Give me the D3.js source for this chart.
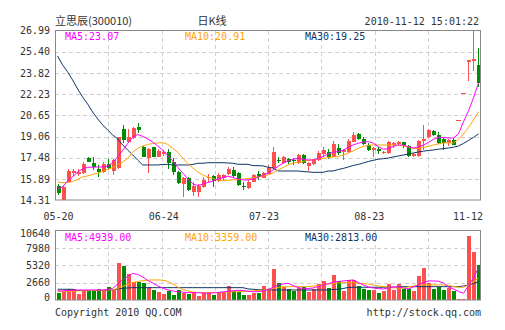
<!DOCTYPE html>
<html><head><meta charset="utf-8">
<script src="https://cdn.jsdelivr.net/npm/d3@7"></script>
<style>
body{margin:0;background:#fff}
svg{display:block}
text{font-family:"DejaVu Sans Mono","Liberation Mono",monospace}
</style>
</head><body>
<svg id="c" width="505" height="330"></svg>
<script>
// ---------- data ----------
const titleName = "立思辰(300010)";
const titleMid = "日K线";
const stamp = "2010-11-12 15:01:22";
const dateLabels = ["05-20","06-24","07-23","08-23","11-12"];
const dateIndex = [0,21,41,62,84];
const priceTicks = [26.99,25.40,23.82,22.23,20.65,19.06,17.48,15.89,14.31];
const volTicks = [10640,7980,5320,2660,0];
const priceLegend = ["MA5:23.07","MA10:20.91","MA30:19.25"];
const volLegend = ["MA5:4939.00","MA10:3359.00","MA30:2813.00"];
const copyright = "Copyright 2010 QQ.COM";
const site = "http://stock.qq.com";

const open = [15.36,14.31,15.66,16.31,16.28,16.33,17.48,17.06,16.63,16.43,
17.00,16.48,16.72,19.60,18.68,18.93,19.80,18.28,17.43,18.26,
17.55,17.73,17.88,17.12,16.37,15.51,15.93,14.94,14.94,15.28,
15.93,16.11,15.73,15.93,16.26,16.56,16.31,15.39,15.18,15.68,
16.26,15.98,16.29,16.68,17.33,17.06,17.36,17.28,17.10,17.68,
16.88,17.00,17.30,17.73,17.93,17.55,18.23,17.88,17.88,18.68,
19.25,18.86,18.43,18.05,18.13,17.81,17.81,18.43,18.48,18.65,
18.33,17.58,17.58,18.75,19.01,19.45,19.16,18.88,18.58,18.82,
20.30,22.33,24.62,24.70,24.42];
const high = [15.51,15.36,16.61,16.65,16.63,17.15,17.53,17.53,16.93,17.15,
17.38,17.38,19.03,19.93,19.60,19.78,20.05,18.35,18.20,18.28,
18.13,18.05,18.11,17.45,16.48,16.03,16.05,15.66,15.51,16.05,
16.23,16.18,16.31,16.26,16.76,16.80,16.43,15.68,15.77,16.26,
16.48,16.44,16.93,18.26,17.55,17.63,17.48,17.48,17.75,17.72,
17.19,17.38,17.94,18.26,18.09,18.73,18.50,18.13,18.84,19.42,
19.33,19.05,18.58,18.24,18.26,17.94,18.73,18.68,18.73,18.68,
18.43,17.83,18.77,19.95,19.59,19.51,19.40,18.95,18.84,18.95,
20.30,22.33,24.80,26.99,25.67];
const low = [14.66,14.31,15.58,16.13,16.11,16.26,17.12,16.56,16.05,16.33,
16.56,16.18,16.65,18.60,18.62,18.88,19.30,17.53,16.31,17.53,
17.49,17.60,16.61,16.18,15.51,14.51,14.98,14.61,14.53,15.21,
15.68,15.26,15.66,15.73,16.18,16.03,15.36,15.06,15.13,15.62,
15.81,15.92,16.22,16.63,17.06,16.98,16.98,16.93,17.04,17.04,
16.48,16.93,17.23,17.55,17.38,17.49,17.68,17.30,17.83,18.62,
18.80,18.43,18.00,17.55,17.75,17.75,17.75,18.18,18.43,18.18,
17.53,17.53,17.53,18.08,18.95,19.10,18.50,18.08,18.35,18.39,
20.30,22.33,23.18,23.97,22.77];
const close = [14.81,15.28,16.48,16.48,16.41,17.00,17.18,16.80,16.41,17.00,
16.68,17.30,19.03,18.80,19.05,19.68,19.55,17.55,18.13,17.55,
17.98,17.93,17.10,16.37,15.60,15.93,15.06,15.32,15.32,15.81,
16.05,15.75,16.18,16.16,16.61,16.13,15.43,15.33,15.68,16.18,
16.05,16.35,16.68,17.93,17.28,17.51,17.18,17.23,17.68,17.10,
17.10,17.30,17.85,18.05,17.55,18.50,17.85,18.05,18.75,19.18,
18.86,18.48,18.05,18.18,17.98,17.88,18.65,18.58,18.65,18.41,
17.58,17.75,18.71,18.88,19.53,19.16,18.58,18.58,18.78,18.45,
20.30,22.33,24.77,24.87,23.05];
const ma5 = [15.17,15.28,15.73,16.03,16.41,16.63,16.76,16.76,16.78,16.78,
16.82,17.12,17.53,18.02,18.54,18.99,19.21,19.07,18.88,18.65,
18.35,18.05,17.64,17.23,16.74,16.33,15.88,15.51,15.39,15.51,
15.62,15.73,15.88,15.98,16.09,15.99,15.88,15.81,15.81,15.88,
15.99,16.18,16.29,16.56,16.82,17.08,17.23,17.36,17.43,17.36,
17.30,17.30,17.42,17.57,17.75,17.88,17.94,18.03,18.24,18.43,
18.56,18.63,18.68,18.56,18.30,18.11,18.15,18.32,18.43,18.43,
18.28,18.20,18.28,18.41,18.62,18.84,19.01,18.98,18.95,18.95,
19.25,20.15,20.98,21.95,23.07];
const ma10 = [15.66,15.60,15.62,15.69,15.84,16.03,16.11,16.22,16.33,16.44,
16.59,16.74,16.93,17.15,17.42,17.90,18.17,18.35,18.47,18.54,
18.58,18.60,18.47,18.17,17.87,17.45,17.04,16.71,16.41,16.18,
16.03,15.92,15.81,15.75,15.78,15.81,15.84,15.87,15.92,15.96,
16.03,16.11,16.18,16.33,16.56,16.74,16.93,17.08,17.13,17.19,
17.27,17.34,17.39,17.43,17.48,17.53,17.57,17.68,17.83,17.98,
18.17,18.32,18.39,18.43,18.43,18.43,18.43,18.43,18.39,18.35,
18.28,18.17,18.17,18.24,18.32,18.43,18.50,18.58,18.58,18.58,
18.84,19.25,19.74,20.30,20.91];
const ma30 = [25.09,24.42,23.90,23.30,22.62,22.02,21.50,20.90,20.38,19.93,
19.55,19.18,18.88,18.43,18.05,17.68,17.30,16.93,16.93,16.93,
16.93,16.97,16.97,16.93,16.93,16.93,16.93,16.97,17.06,17.06,
17.10,17.10,17.10,17.10,17.08,17.06,16.98,16.98,16.98,16.88,
16.88,16.86,16.76,16.71,16.48,16.48,16.48,16.48,16.48,16.44,
16.41,16.38,16.38,16.38,16.48,16.48,16.59,16.67,16.78,16.89,
16.97,17.08,17.19,17.28,17.36,17.40,17.45,17.53,17.60,17.68,
17.75,17.83,17.90,17.96,18.02,18.05,18.11,18.15,18.20,18.26,
18.35,18.54,18.77,18.99,19.25];
const volume = [1120,1380,1690,1690,970,1535,1490,1330,1690,1535,
2000,1535,5730,5220,4040,2760,2810,2560,2050,1535,
1280,920,1380,770,1535,1020,970,1230,610,1020,
1230,820,1020,1230,2150,1330,1180,770,820,1120,
1020,2150,1500,4760,2660,2000,1690,1330,1790,2050,
1280,1640,2460,2920,1890,3840,2920,1380,3070,3070,
2150,1640,1535,1535,1120,1380,2460,1535,2460,1640,
1640,1380,3680,4860,2660,1690,2050,1535,1790,1380,
200,200,9820,7420,5370];
const vma5 = [1382,1412,1458,1489,1535,1535,1535,1535,1535,1535,
1612,1765,2456,3070,3607,4068,3914,3531,2993,2610,
2149,1842,1535,1382,1274,1197,1121,1121,1121,1075,
1029,1075,1151,1228,1335,1412,1489,1458,1335,1274,
1274,1382,1612,1919,2303,2456,2563,2226,1919,1765,
1735,1842,2072,2303,2502,2717,2840,2917,2993,3070,
2686,2303,1996,1842,1735,1689,1842,1996,2042,1842,
1689,1996,2303,2686,2917,2917,2871,2610,1996,1689,
1305,1029,2200,3377,4939];
const vma10 = [1274,1305,1335,1351,1382,1412,1428,1443,1474,1504,
1520,1535,1765,2072,2379,2686,2840,2963,3040,3070,
3070,3024,2840,2456,1996,1612,1382,1228,1151,1121,
1121,1121,1151,1182,1228,1259,1274,1305,1351,1382,
1458,1535,1642,1765,1919,2026,2042,2042,2042,2042,
2042,2118,2226,2349,2456,2533,2610,2656,2656,2640,
2563,2502,2456,2303,2149,2042,1950,1873,1812,1842,
1996,2149,2256,2303,2303,2303,2303,2303,2226,2072,
1950,1950,2303,2763,3359];
const vma30 = [1643,1643,1643,1643,1458,1458,1458,1458,1458,1458,
1458,1535,1689,1796,1842,1888,1888,1888,1888,1888,
1888,1888,1888,1888,1888,1888,1888,1888,1888,1888,
1888,1888,1888,1888,1888,1888,1888,1888,1689,1643,
1581,1581,1581,1535,1535,1535,1535,1535,1535,1535,
1535,1535,1535,1535,1535,1612,1643,1765,1919,1950,
1950,1950,1950,1950,1950,1950,1950,1950,1996,2042,
2042,2042,2042,2042,2042,2042,2042,2042,2042,2042,
2042,2149,2303,2533,2813];

// ---------- style ----------
const RED = "#ff5050", GREEN = "#008c00";
const C5 = "#ff00ff", C10 = "#ffa500", C30 = "#0e3566";
const TXT = "#333";
const L = 55, R = 481;
const PT = 30.5, PB = 200, VT = 230.5, VB = 300;

const svg = d3.select("#c");
const n = close.length;
const idx = d3.range(n);
const x = d3.scaleBand().domain(idx).range([L, R]).paddingInner(0);
const xc = i => x(i) + x.bandwidth()/2;
const yP = d3.scaleLinear().domain([priceTicks[priceTicks.length-1], priceTicks[0]]).range([PB, PT]);
const yV = d3.scaleLinear().domain([0, volTicks[0]]).range([VB, VT]);

// grids
function grid(y, ticks, top, bottom){
  const g = svg.append("g").attr("stroke","#d0d0d0").attr("stroke-dasharray","4,3").attr("shape-rendering","crispEdges");
  ticks.slice(1,-1).forEach(t => g.append("line").attr("x1",L).attr("x2",R).attr("y1",Math.round(y(t))+0.5).attr("y2",Math.round(y(t))+0.5));
  for(let j=1;j<8;j++){ const xx = Math.round(L + j*(R-L)/8)+0.5;
    g.append("line").attr("x1",xx).attr("x2",xx).attr("y1",top).attr("y2",bottom); }
}
grid(yP, priceTicks, PT, PB);
grid(yV, volTicks, VT, VB);

// candles
const cg = svg.append("g").attr("shape-rendering","crispEdges");
idx.forEach(i => {
  const up = close[i] >= open[i];
  const col = up ? RED : GREEN;
  const cx = Math.round(xc(i));
  cg.append("line").attr("x1",cx+0.5).attr("x2",cx+0.5).attr("y1",yP(high[i])).attr("y2",yP(low[i])).attr("stroke",col);
  const t = yP(Math.max(open[i],close[i])), b = yP(Math.min(open[i],close[i]));
  const flat = high[i] === low[i];
  const w = flat ? 5 : 4;
  cg.append("rect").attr("x",cx-(flat?2:1.5)).attr("y",t).attr("width",w).attr("height",Math.max(1,b-t)).attr("fill",col);
});

// volume bars
const vg = svg.append("g").attr("shape-rendering","crispEdges");
idx.forEach(i => {
  const up = close[i] >= open[i];
  const cx = Math.round(xc(i));
  vg.append("rect").attr("x",cx-1.5).attr("y",yV(volume[i])).attr("width",4).attr("height",VB-yV(volume[i])).attr("fill",up?RED:GREEN);
});

// MA lines
function maLine(arr, y, col){
  svg.append("path").datum(arr).attr("fill","none").attr("stroke",col).attr("stroke-width",1)
    .attr("d", d3.line().x((d,i)=>xc(i)).y(d=>y(d)));
}
maLine(ma30, yP, C30); maLine(ma10, yP, C10); maLine(ma5, yP, C5);
maLine(vma30, yV, C30); maLine(vma10, yV, C10); maLine(vma5, yV, C5);

// frames
svg.append("rect").attr("x",L+0.5).attr("y",PT).attr("width",R-L-1).attr("height",PB-PT).attr("fill","none").attr("stroke","#888");
svg.append("rect").attr("x",L+0.5).attr("y",VT).attr("width",R-L-1).attr("height",VB-VT).attr("fill","none").attr("stroke","#888");

// axes
const ax1 = svg.append("g").attr("transform",`translate(${L},0)`)
  .call(d3.axisLeft(yP).tickValues(priceTicks).tickFormat(d3.format(".2f")).tickSize(0).tickPadding(5));
const ax2 = svg.append("g").attr("transform",`translate(${L},0)`)
  .call(d3.axisLeft(yV).tickValues(volTicks).tickFormat(d3.format("d")).tickSize(0).tickPadding(5));
[ax1,ax2].forEach(a => { a.select(".domain").remove();
  a.selectAll("text").attr("fill",TXT).style("font-size","10px").style("font-family","DejaVu Sans Mono"); });
ax2.selectAll(".tick").filter(d=>d===volTicks[0]).select("text").attr("dy","0.6em");
ax2.selectAll(".tick").filter(d=>d===0).select("text").attr("dy","0.05em");

// date labels
dateLabels.forEach((lab,k) => {
  const i = dateIndex[k];
  const last = k === dateLabels.length-1;
  svg.append("text").attr("x", last ? R+2 : xc(i)+1).attr("y",220)
    .attr("text-anchor", last ? "end" : "middle").attr("fill",TXT).style("font-size","10px").text(lab);
});

// legends
[C5,C10,C30].forEach((c,k) => {
  svg.append("text").attr("x",L+10+k*120).attr("y",40).attr("fill",c).style("font-size","10px").text(priceLegend[k]);
  svg.append("text").attr("x",L+10+k*120).attr("y",240.5).attr("fill",c).style("font-size","10px").text(volLegend[k]);
});

// title
svg.append("text").attr("x",L).attr("y",25).attr("fill",TXT).style("font-size","11px")
  .style("font-family","'Noto Sans CJK SC','DejaVu Sans Mono'").text(titleName);
svg.append("text").attr("x",212).attr("y",25).attr("text-anchor","middle").attr("fill",TXT).style("font-size","11px")
  .style("font-family","'Noto Sans CJK SC'").text(titleMid);
svg.append("text").attr("x",479).attr("y",25).attr("text-anchor","end").attr("fill",TXT).style("font-size","10px").text(stamp);

svg.append("text").attr("x",L).attr("y",316).attr("fill",TXT).style("font-size","10px").text(copyright);
svg.append("text").attr("x",R).attr("y",316).attr("text-anchor","end").attr("fill",TXT).style("font-size","10px").text(site);
</script>
</body></html>
